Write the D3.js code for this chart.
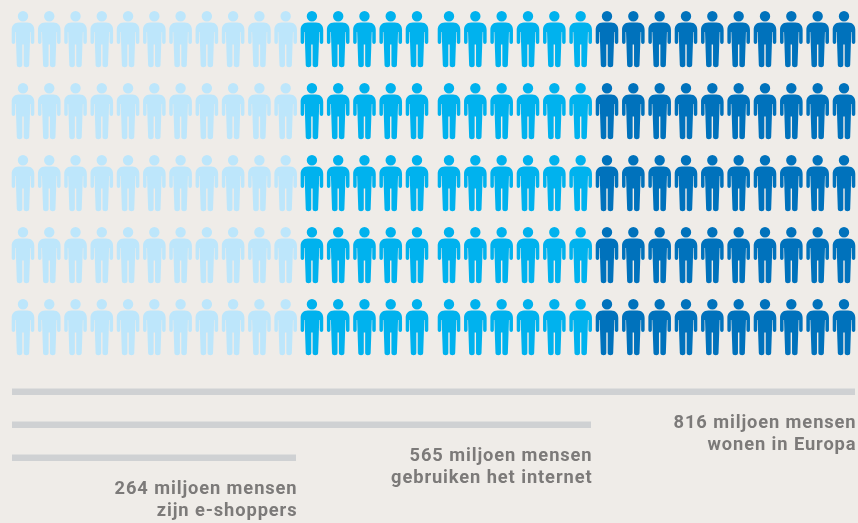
<!DOCTYPE html>
<html>
<head>
<meta charset="utf-8">
<script src="https://cdn.jsdelivr.net/npm/d3@7"></script>
<style>
html, body { margin: 0; padding: 0; background: #efece8; overflow: hidden; }
text { font-family: Roboto, sans-serif; font-weight: 700; font-size: 18.3px; fill: #7c7a79; letter-spacing: 0.9px; }
</style>
</head>
<body>
<div id="chart"></div>
<script>
var svgWidth = 858;
var svgHeight = 523;

// millions of people per group, narrowest bar first
var values = [264, 565, 816];
var labelTop = ["264 miljoen mensen", "565 miljoen mensen", "816 miljoen mensen"];
var labelBottom = ["zijn e-shoppers", "gebruiken het internet", "wonen in Europa"];
// how many columns of figures each group adds
var columnCounts = [11, 11, 10];
var figureRows = [0, 1, 2, 3, 4];
var colors = ["#bde6fb", "#00b2ee", "#0072bc"];

var svg = d3.select("#chart")
	.append("svg")
	.attr("width", svgWidth)
	.attr("height", svgHeight)
	.style("display", "block");

// soft edges, the original is a scaled-up bitmap
svg.append("filter")
	.attr("id", "soft")
	.append("feGaussianBlur")
	.attr("stdDeviation", 0.55);

// one column list per figure, with its group index
var columns = [];
columnCounts.forEach((n, g) => {
	d3.range(n).forEach(() => columns.push(g));
});

// there is a small gap after column 15
var xColumn = d3.scaleLinear()
	.domain([0, 15, 16, 31])
	.range([23, 417, 449, 844]);

var yRow = d3.scaleLinear()
	.domain([0, 4])
	.range([11, 299]);

// bars are not quite linear in the original so the scale has a stop per value
var xBar = d3.scaleLinear()
	.domain([0].concat(values))
	.range([12, 296, 591, 855]);

// figure drawn around x=0, head top at y=0
var figurePath = "M0,0 a5.2,5.2 0 0,1 0,10.4 a5.2,5.2 0 0,1 0,-10.4 Z" +
	"M-4,11.6 L4,11.6 C9,11.6 11.3,15 11.3,19 L11.3,31 C11.3,33.6 7.8,33.6 7.8,31 L7.8,21 L7.3,21 L6.2,54 " +
	"C6.2,57 0.7,57 0.7,54 L0.7,33.5 L-0.7,33.5 L-0.7,54 C-0.7,57 -6.2,57 -6.2,54 L-7.3,21 L-7.8,21 L-7.8,31 " +
	"C-7.8,33.6 -11.3,33.6 -11.3,31 L-11.3,19 C-11.3,15 -9,11.6 -4,11.6 Z";

var figures = svg.append("g").attr("filter", "url(#soft)");

figureRows.forEach(r => {
	figures.selectAll(null)
		.data(columns)
		.enter()
		.append("path")
		.attr("d", figurePath)
		.attr("transform", (g, i) => `translate(${xColumn(i)}, ${yRow(r)})`)
		.attr("fill", g => colors[g]);
});

var barY = d3.scaleBand()
	.domain([2, 1, 0])
	.range([375, 474]);

var bottom = svg.append("g").attr("filter", "url(#soft)");

bottom.selectAll("rect")
	.data(values)
	.enter()
	.append("rect")
	.attr("x", xBar(0))
	.attr("y", (d, i) => barY(i) + barY.bandwidth() / 2 - 3)
	.attr("width", d => xBar(d) - xBar(0))
	.attr("height", 6.5)
	.attr("fill", "#cfd1d3");

bottom.selectAll("text.top")
	.data(values)
	.enter()
	.append("text")
	.attr("class", "top")
	.attr("text-anchor", "end")
	.attr("x", d => xBar(d) + 1.5)
	.attr("y", (d, i) => barY(i) + barY.bandwidth() / 2 + 36.5)
	.text((d, i) => labelTop[i]);

bottom.selectAll("text.bottom")
	.data(values)
	.enter()
	.append("text")
	.attr("class", "bottom")
	.attr("text-anchor", "end")
	.attr("x", d => xBar(d) + 1.5)
	.attr("y", (d, i) => barY(i) + barY.bandwidth() / 2 + 58.5)
	.text((d, i) => labelBottom[i]);
</script>
</body>
</html>
